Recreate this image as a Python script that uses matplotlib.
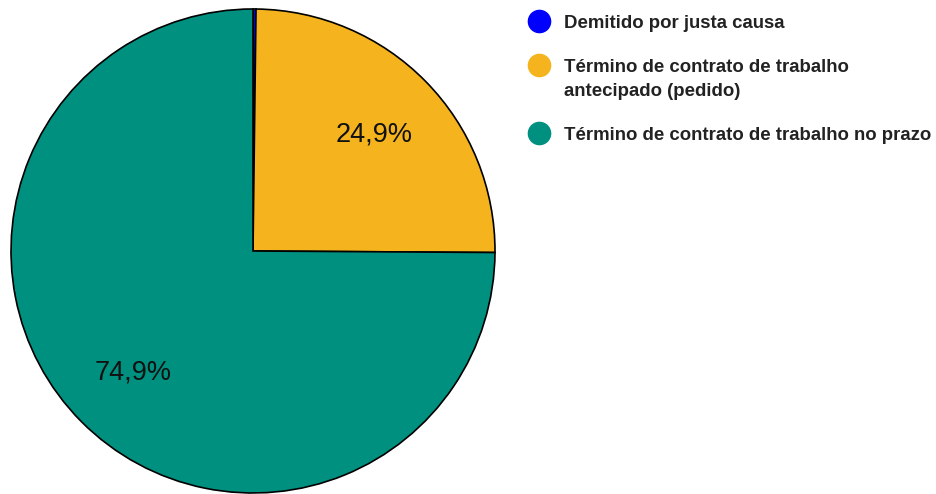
import matplotlib
matplotlib.use("Agg")
import matplotlib.pyplot as plt
from matplotlib.lines import Line2D

plt.rcParams['font.family'] = ['Liberation Sans', 'DejaVu Sans']

# motivo de desligamento (%)
categorias = ['Demitido por justa causa',
              'Término de contrato de trabalho\nantecipado (pedido)',
              'Término de contrato de trabalho no prazo']
valores = [0.2, 24.9, 74.9]
cores = ['#0000FF', '#F5B41E', '#009080']

W, H = 936, 494
fig = plt.figure(figsize=(W / 100, H / 100), dpi=100)

# pizza: centro (253, 251) px, raio 242 px
cx, cy, r = 253, 251, 242
ax = fig.add_axes([(cx - r) / W, (H - cy - r) / H, 2 * r / W, 2 * r / H])

def fmt(p):
    return ('%.1f%%' % p).replace('.', ',') if p > 1 else ''

wedges, texts, autotexts = ax.pie(
    valores, colors=cores, startangle=90, counterclock=False,
    autopct=fmt, pctdistance=0.70, radius=1.0,
    wedgeprops=dict(edgecolor='black', linewidth=1.2),
    textprops=dict(fontsize=19.5, color='#111111'))
for t in autotexts:
    x, y = t.get_position()
    t.set_position((x, y - 0.01))
ax.set_xlim(-1.0, 1.0)
ax.set_ylim(-1.0, 1.0)
ax.set_aspect('equal')
ax.axis('off')

# legenda manual
leg_y = [21, 65, 133]
for cat, cor, y in zip(categorias, cores, leg_y):
    fig.add_artist(Line2D([539 / W], [1 - y / H], marker='o', markersize=16,
                          color=cor, transform=fig.transFigure))
    fig.text(564 / W, 1 - (y - 6) / H, cat, fontsize=13.4, fontweight='bold',
             color='#222222', va='top', ha='left', linespacing=1.5)

fig.savefig('out.png', dpi=100, facecolor='white')
